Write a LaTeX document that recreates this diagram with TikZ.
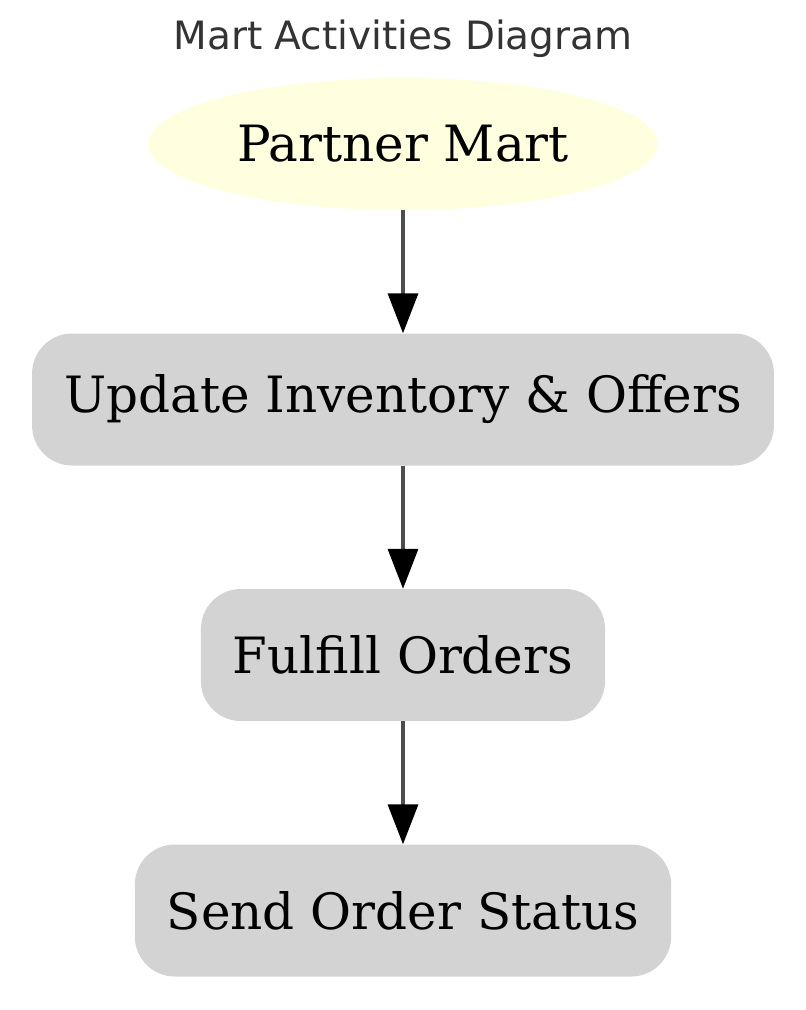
\documentclass[tikz,border=0pt]{standalone}
\usepackage{fontspec}
\newfontfamily\titlefont{DejaVu Sans}
\newfontfamily\boxfont{DejaVu Serif}
\usetikzlibrary{shapes.geometric,arrows.meta,positioning}
\definecolor{martyellow}{HTML}{FFFFE0}
\definecolor{actgrey}{HTML}{D3D3D3}
\definecolor{edgegrey}{HTML}{4D4D4D}
\definecolor{titlegrey}{HTML}{333333}
\tikzset{
  mart/.style={ellipse,fill=martyellow,minimum width=510pt,minimum height=132pt,
    inner sep=0pt,font=\boxfont\fontsize{50}{60}\selectfont},
  activity/.style={rectangle,rounded corners=40pt,fill=actgrey,minimum height=132pt,
    inner xsep=32pt,inner ysep=0pt,font=\boxfont\fontsize{50}{60}\selectfont},
  flow/.style={->,draw=edgegrey,line width=3.5pt,
    >={Triangle[length=40pt,width=30pt,color=black]}}
}
\begin{document}
\begin{tikzpicture}[x=1pt,y=1pt,node distance=255.5pt,on grid]
   \useasboundingbox (0,0) rectangle (806,-1010);
   \node [text=titlegrey,font=\titlefont\fontsize{39}{46}\selectfont] (title) at (403,-39) {Mart Activities Diagram};
   \node [mart] (partner) at (403,-144) {Partner Mart};
   \node [activity] (update) [below=of partner] {Update Inventory \& Offers};
   \node [activity] (fulfill) [below=of update] {Fulfill Orders};
   \node [activity] (status) [below=of fulfill] {Send Order Status};
    \path[flow]
    (partner) edge (update)
    (update) edge (fulfill)
    (fulfill) edge (status);
\end{tikzpicture}
\end{document}
